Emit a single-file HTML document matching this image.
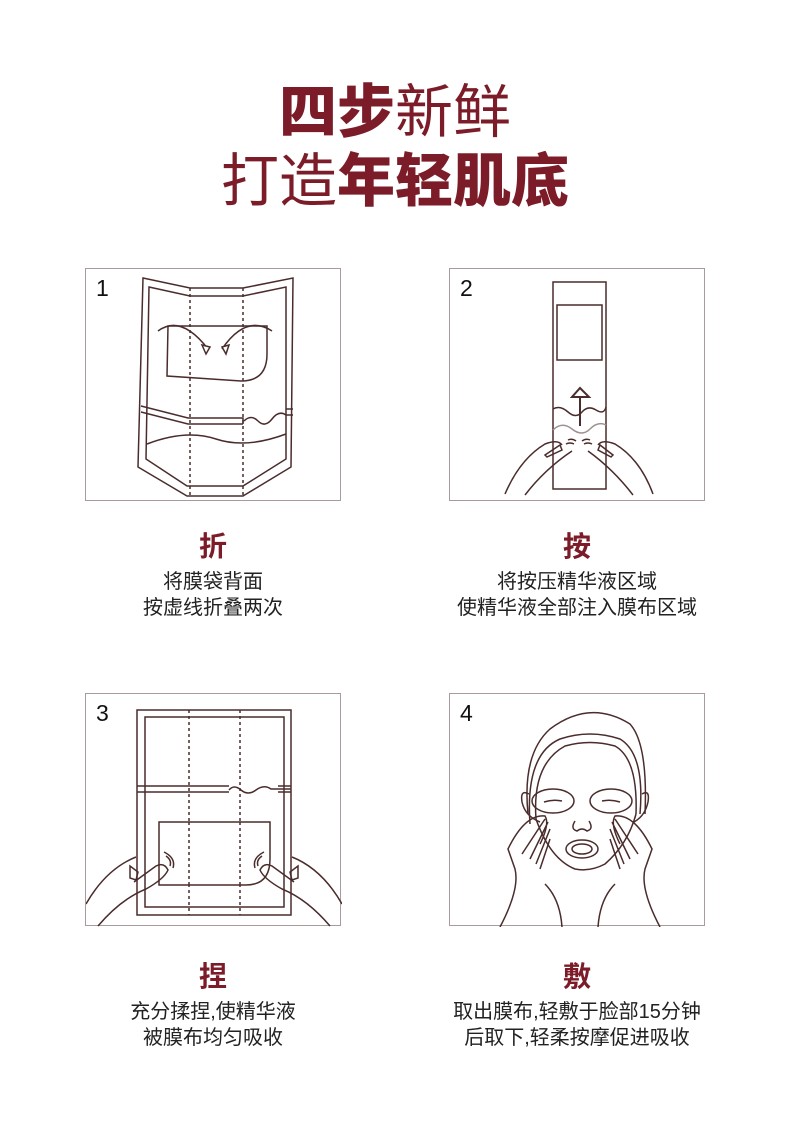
<!DOCTYPE html>
<html><head><meta charset="utf-8"><style>
body{margin:0;width:790px;height:1146px;background:#fff;position:relative;font-family:"Liberation Sans","Noto Sans CJK SC",sans-serif;overflow:hidden}
.t{position:absolute;left:0;width:790px;text-align:center;color:#7b1c28;font-size:58px;line-height:60px;font-family:"Liberation Sans","Noto Sans CJK SC",sans-serif}
.t b{font-weight:900}.t span{font-weight:400}
.box{position:absolute;width:256px;height:233px;border:1px solid #a99b9b;box-sizing:border-box}
.box svg{position:absolute;left:0;top:0}
.n{position:absolute;left:10px;top:6px;font-size:23px;color:#111;font-family:"Liberation Sans",sans-serif}
.h{position:absolute;width:256px;text-align:center;color:#7b1c28;font-size:28px;font-weight:700}
.d{position:absolute;width:350px;text-align:center;color:#222;font-size:20px;line-height:26px}
</style></head><body>
<div class="t" style="top:83px"><b>四步</b><span>新鲜</span></div>
<div class="t" style="top:152px"><span>打造</span><b>年轻肌底</b></div>

<div class="box" style="left:85px;top:268px"><div class="n">1</div>
<svg width="256" height="233" fill="none" stroke="#4a2c2c" stroke-width="1.5">
<polygon points="57,9 104,19 157,19 207,9 205,198 157,227 101,227 52,198"/>
<polygon points="63,18 104,27 157,27 200,18 200,190 157,217 101,217 60,190"/>
<line x1="104" y1="19" x2="104" y2="227" stroke-dasharray="3,3"/>
<line x1="157" y1="19" x2="157" y2="227" stroke-dasharray="3,3"/>
<path d="M82,57 L181,57 L181,85 Q181,112 155,112 L81,107 Z"/>
<path d="M55,137 L102,149 L157,149 L157,155 M55,143 L102,155 L157,155"/>
<path d="M158,152 Q165,145 172,152 T186,150 T200,146 L207,146 M200,140 L207,140"/>
<path d="M61,175 Q100,160 130,170 T200,165" />
<path d="M72,62 Q95,45 122,80 M186,62 Q160,45 136,80"/>
<polygon points="116,76 124,78 120,85" fill="#fff"/>
<polygon points="136,78 143,76 140,85" fill="#fff"/>
</svg></div>

<div class="box" style="left:449px;top:268px"><div class="n">2</div>
<svg width="256" height="233" fill="none" stroke="#4a2c2c" stroke-width="1.5">
<rect x="103" y="13" width="53" height="207"/>
<rect x="107" y="36" width="45" height="55"/>
<line x1="130" y1="157" x2="130" y2="128" stroke-width="2"/>
<polygon points="122,128 139,128 130,119" stroke-width="2" fill="#fff"/>
<path d="M103,140 Q110,136 118,143 T132,143 T146,141 T156,138"/>
<path d="M103,161 Q112,152 122,160 T140,160 T156,156" stroke="#a09090"/>
<path d="M55,225 Q70,190 95,175 Q108,170 112,176 M75,226 Q95,200 122,182 M95,186 L110,176 L112,181 L97,188 Z M118,171 Q122,169 126,172 M116,175 Q120,173 124,175"/>
<path d="M203,225 Q190,190 165,175 Q152,170 148,176 M183,226 Q163,200 138,182 M163,186 L150,176 L148,181 L161,188 Z M140,171 Q136,169 132,172 M142,175 Q138,173 134,175"/>
</svg></div>

<div class="box" style="left:85px;top:693px"><div class="n">3</div>
<svg width="256" height="233" fill="none" stroke="#4a2c2c" stroke-width="1.5">
<rect x="51" y="16" width="154" height="205"/>
<rect x="59" y="23" width="139" height="190"/>
<line x1="103" y1="16" x2="103" y2="221" stroke-dasharray="3,3"/>
<line x1="154" y1="16" x2="154" y2="221" stroke-dasharray="3,3"/>
<path d="M51,92 L143,92 M51,98 L143,98 M143,96 Q148,90 155,96 T170,96 T185,95 L205,95 M192,92 L205,92 M192,98 L205,98"/>
<path d="M73,128 L184,128 L184,165 Q184,191 160,191 L73,191 Z" fill="#fff"/>
<line x1="103" y1="128" x2="103" y2="191" stroke-dasharray="3,3"/>
<line x1="154" y1="128" x2="154" y2="191" stroke-dasharray="3,3"/>
<path d="M0,210 Q20,175 50,163 M12,232 Q35,205 60,195 Q78,185 82,176 Q78,168 70,172 L48,188 M44,172 L52,178 L50,186 L44,184 Z M80,162 Q86,166 84,172 M78,158 Q90,164 87,174"/>
<path d="M256,210 Q236,175 206,163 M244,232 Q221,205 196,195 Q178,185 174,176 Q178,168 186,172 L208,188 M212,172 L204,178 L206,186 L212,184 Z M176,162 Q170,166 172,172 M178,158 Q166,164 169,174"/>
</svg></div>

<div class="box" style="left:449px;top:693px"><div class="n">4</div>
<svg width="256" height="233" fill="none" stroke="#4a2c2c" stroke-width="1.5">
<path d="M78,120 Q72,60 100,35 Q140,5 180,30 Q198,50 195,120"/>
<path d="M80,130 Q75,60 110,45 Q140,35 170,45 Q195,60 190,120"/>
<path d="M86,125 Q82,70 115,52 Q140,45 165,52 Q188,65 186,120"/>
<path d="M86,125 Q100,165 125,175 Q140,178 155,170 Q178,150 186,120"/>
<path d="M79,100 Q70,95 72,108 Q75,122 90,128 M192,100 Q200,95 198,108 Q195,122 184,128"/>
<ellipse cx="103" cy="107" rx="21" ry="12"/><ellipse cx="161" cy="107" rx="21" ry="12"/>
<path d="M94,108 Q103,105 112,107 M152,107 Q161,105 170,108"/>
<path d="M125,127 Q120,135 127,137 Q132,133 137,137 Q144,135 139,127"/>
<ellipse cx="132" cy="155" rx="16" ry="9"/><ellipse cx="132" cy="155" rx="10" ry="5"/>
<path d="M50,233 Q70,195 65,175 L58,155 Q75,120 95,122 Q100,130 90,150 M72,160 L95,125 M80,165 L98,128 M86,170 L100,135 M90,175 L100,145 M95,190 Q110,205 112,233"/>
<path d="M210,233 Q190,195 195,175 L202,155 Q185,120 165,122 Q160,130 170,150 M188,160 L165,125 M180,165 L162,128 M174,170 L160,135 M170,175 L160,145 M165,190 Q150,205 148,233"/>
</svg></div>

<div class="h" style="left:85px;top:525px">折</div>
<div class="d" style="left:38px;top:569px">将膜袋背面<br>按虚线折叠两次</div>
<div class="h" style="left:449px;top:525px">按</div>
<div class="d" style="left:402px;top:569px">将按压精华液区域<br>使精华液全部注入膜布区域</div>
<div class="h" style="left:85px;top:955px">捏</div>
<div class="d" style="left:38px;top:999px">充分揉捏,使精华液<br>被膜布均匀吸收</div>
<div class="h" style="left:449px;top:955px">敷</div>
<div class="d" style="left:402px;top:999px">取出膜布,轻敷于脸部15分钟<br>后取下,轻柔按摩促进吸收</div>
</body></html>
